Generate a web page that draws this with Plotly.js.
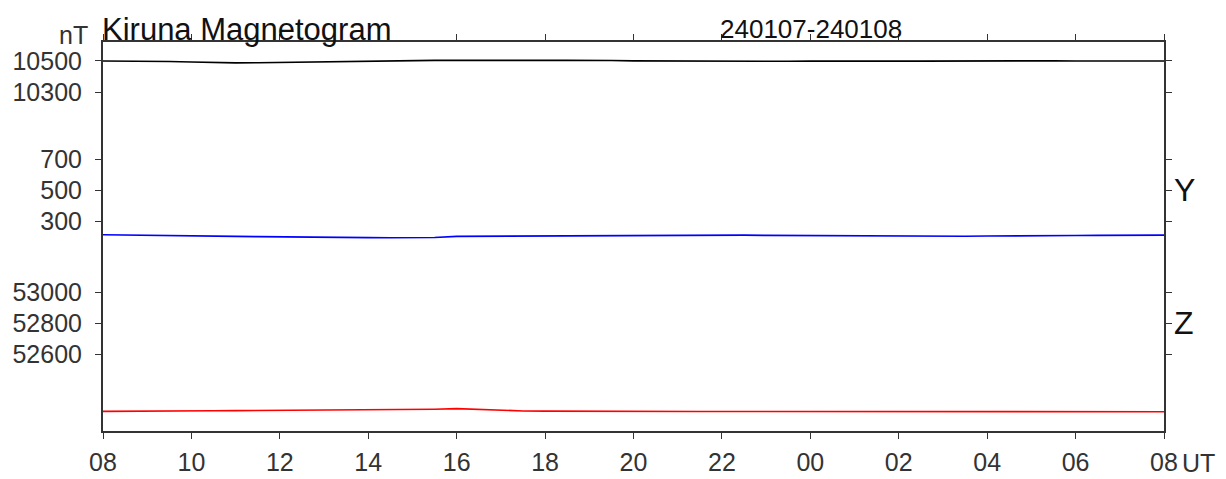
<!DOCTYPE html>
<html>
<head>
<meta charset="utf-8">
<script src="https://cdn.plot.ly/plotly-3.0.1.min.js"></script>
<style>html,body{margin:0;padding:0;background:#fff;}#chart{width:1226px;height:479px;}</style>
</head>
<body>
<div id="chart"></div>
<script>
// Half-hourly samples from 2024-01-07 08:00 UT to 2024-01-08 08:00 UT
const startTime = '2024-01-07T08:00:00Z';
const stepMinutes = 30;

// X component (nT)
const xComp = [10500,10499,10501,10497,10493,10490,10488,10489,10491,10494,10497,10500,10502,10503,10503,10504,10504,10503,10504,10503,10504,10504,10505,10503,10501,10500,10499,10499,10498,10499,10498,10498,10499,10498,10497,10498,10499,10499,10500,10500,10500,10499,10500,10501,10500,10500,10501,10500,10500];
// Y component (nT)
const yComp = [215,214,213,211,209,207,205,203,201,200,199,198,197,196,195,198,205,206,207,207,208,208,209,209,209,210,210,212,214,213,211,210,209,209,208,208,207,207,207,206,207,207,206,208,210,211,212,212,213];
// Z component (nT)
const zComp = [52233,52233,52234,52235,52236,52237,52238,52239,52240,52241,52242,52242,52242,52241,52243,52247,52251,52245,52239,52236,52235,52234,52234,52233,52233,52233,52232,52232,52232,52232,52231,52231,52231,52230,52230,52230,52229,52229,52229,52229,52229,52229,52230,52230,52230,52231,52231,52231,52231];

const xTicks = [10300, 10500];
const yTicks = [300, 500, 700];
const zTicks = [52600, 52800, 53000];

const t0 = Date.parse(startTime);
const times = xComp.map((_, i) => new Date(t0 + i * stepMinutes * 60000).toISOString().replace('Z',''));

const FONT = 'Liberation Sans, Arial, Helvetica, sans-serif';
const AX = '#333333';

const traces = [
  {x: times, y: xComp, type: 'scatter', mode: 'lines', line: {color: '#000000', width: 1.6}, yaxis: 'y', hoverinfo: 'skip'},
  {x: times, y: yComp, type: 'scatter', mode: 'lines', line: {color: '#0000ff', width: 1.6}, yaxis: 'y2', hoverinfo: 'skip'},
  {x: times, y: zComp, type: 'scatter', mode: 'lines', line: {color: '#ff0000', width: 1.6}, yaxis: 'y3', hoverinfo: 'skip'}
];

function yax(range, ticks, extra) {
  return Object.assign({
    range: range, tickvals: ticks, ticktext: ticks.map(String),
    showgrid: false, zeroline: false, showline: true, linecolor: AX, linewidth: 2,
    mirror: 'ticks', ticks: 'outside', ticklen: 6, tickwidth: 1, tickcolor: AX,
    tickfont: {family: FONT, size: 25, color: AX}, ticklabelstandoff: 8, fixedrange: true
  }, extra || {});
}

const layout = {
  width: 1226, height: 479,
  margin: {l: 103, r: 62, t: 42, b: 48, pad: 0},
  paper_bgcolor: '#ffffff', plot_bgcolor: '#ffffff',
  showlegend: false,
  font: {family: FONT, color: AX},
  xaxis: {
    type: 'date', range: ['2024-01-07 08:00', '2024-01-08 08:00'],
    dtick: 7200000, tick0: '2024-01-07 08:00', tickformat: '%H',
    showgrid: false, zeroline: false, showline: true, linecolor: AX, linewidth: 2,
    mirror: 'ticks', ticks: 'outside', ticklen: 6, tickwidth: 1, tickcolor: AX,
    tickfont: {family: FONT, size: 25, color: AX}, ticklabelstandoff: 2, fixedrange: true
  },
  yaxis: yax([8122, 10622], xTicks),
  yaxis2: yax([-1046, 1454], yTicks, {overlaying: 'y', side: 'left', anchor: 'x'}),
  yaxis3: yax([52107, 54607], zTicks, {overlaying: 'y', side: 'left', anchor: 'x'}),
  annotations: [
    {text: 'Kiruna Magnetogram', xref: 'paper', yref: 'paper', x: 0, y: 1, xanchor: 'left', yanchor: 'bottom', yshift: -7, xshift: -3, showarrow: false, font: {family: FONT, size: 31, color: '#111'}},
    {text: '240107-240108', xref: 'paper', yref: 'paper', x: 0.667, y: 1, xanchor: 'center', yanchor: 'bottom', yshift: -4, showarrow: false, font: {family: FONT, size: 26, color: '#111'}},
    {text: 'nT', xref: 'paper', yref: 'paper', x: 0, y: 1, xanchor: 'right', yanchor: 'bottom', xshift: -13, yshift: -9, showarrow: false, font: {family: FONT, size: 25, color: AX}},
    {text: 'Y', xref: 'paper', yref: 'y2', x: 1, y: 500, xanchor: 'left', yanchor: 'middle', xshift: 8, showarrow: false, font: {family: FONT, size: 32, color: '#111'}},
    {text: 'Z', xref: 'paper', yref: 'y3', x: 1, y: 52800, xanchor: 'left', yanchor: 'middle', xshift: 8, showarrow: false, font: {family: FONT, size: 32, color: '#111'}},
    {text: 'UT', xref: 'paper', yref: 'paper', x: 1, y: 0, xanchor: 'left', yanchor: 'middle', xshift: 16, yshift: -32, showarrow: false, font: {family: FONT, size: 25, color: AX}}
  ]
};

Plotly.newPlot('chart', traces, layout, {staticPlot: true, displayModeBar: false});
</script>
</body>
</html>
